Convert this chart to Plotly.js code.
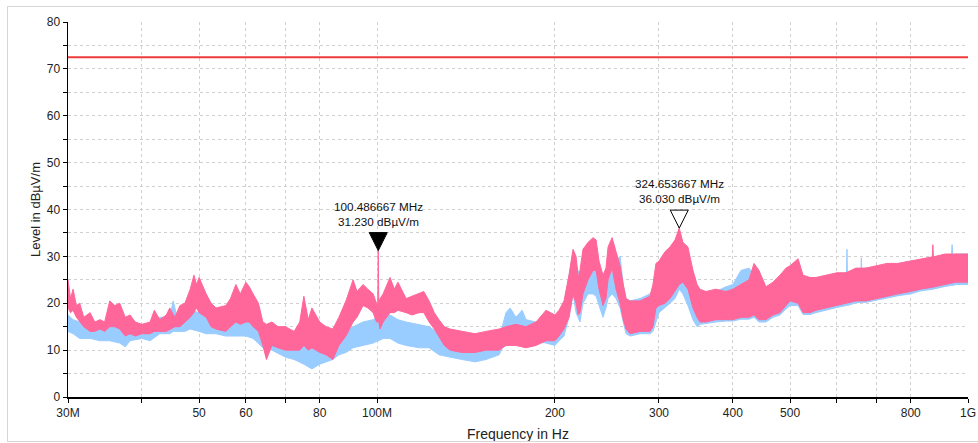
<!DOCTYPE html>
<html>
<head>
<meta charset="utf-8">
<script src="https://cdn.plot.ly/plotly-3.0.1.min.js"></script>
<style>
  html, body { margin: 0; padding: 0; background: #fff; }
  #wrap { position: relative; width: 978px; height: 443px; }
  #chart { position: absolute; left: 0; top: 0; width: 978px; height: 443px; }
  #frame { position: absolute; left: 7px; top: 6px; width: 975px; height: 434px; border: 1px solid #d6d6d6; pointer-events: none; }
</style>
</head>
<body>
<div id="wrap"><div id="chart"></div><div id="frame"></div></div>
<script>
// ---------- DATA (MHz, dBµV/m) ----------
const pinkFreq = [30,30.3,30.6,31.0,31.4,31.9,32.7,33.3,34.0,34.6,35.3,36.0,36.7,37.5,38.2,39.0,40,41.3,42.0,42.9,44.0,44.6,45.5,46.4,47.3,48.3,49.0,49.5,50,51.4,52.4,53.4,55.5,56.5,57.7,58.7,60,60.8,61.7,63,64.1,65,66.4,68,70,72.4,74,75.2,76.5,77.6,80,82,84.2,86.2,88.6,91.1,92.5,94.7,96.5,98.5,99.8,100.3,100.486667,100.7,101.2,102.4,105.2,107,108.5,112,114.6,117.8,120,122.5,125,127.3,130,132.9,139.2,146.5,152.9,160.9,165.3,171.8,178.7,185.8,193.2,200,203.2,207.2,211.3,214.6,217.2,219,220.5,223.1,227.6,232,234.8,237.5,241.2,244,246,249.9,253.8,257.8,261,263.9,268,278.7,289.7,293,296.5,300,307.1,313.1,319.3,324.653667,329.3,335.8,342.5,348,351.9,360.2,374.5,389.4,400,412.9,426,434.4,442.9,455.1,467.8,480.7,492.1,500,515.8,525.9,540.4,553.1,575.1,600,621.6,646.3,672,700,729.3,761.2,800,829.6,870,872,874,914.2,954.1,1000];
const pinkHigh = [25,21,23,19.5,20,17,18,16,16.5,16,20.5,19.5,20,17,17.5,16,15.5,16,18.5,16.5,17.5,19,17,19.5,20,23,26,24,25.5,22,20,19,19.5,21,24,22,24.5,23.5,22,20,16,15.5,16,15,15,14,16,21.5,16.5,19,16,15,14.5,17,20.5,25,22.5,24,23,22,20,20,31.23,20,21,22,25.5,23,24.5,21,21.5,22,22.5,20.5,18,16.5,15,14.5,14,13.5,14,14.5,15,15.5,15,16,18.5,17.5,18.5,20.5,26,31.5,30,25.5,27,31.5,33,34,33.5,29,26,27.5,32,34,31,28,24,21,20.5,20.5,21.5,24,28.5,29,31,32,33.5,36.03,33,32,27,24,23,22.5,23,22.5,23,24,25,28.5,27,23.5,24.5,26,27.5,28,29.5,26,25.5,25.5,26,26.5,26.5,27.5,27.5,28,28.5,28.5,29,29.5,29.9,32.5,29.9,30.5,30.5,30.5];
const pinkLow = [19,18,18.5,17,16,15,14,14,14.5,14,15,15,14.5,13,13.5,13,13.5,13.5,14,14,14,14.5,15,15,16,17,18,19,18,17,15,14.5,14,15,16,15.5,16,16,15,14,11,8,11,10.5,10,10,10,11,10,10.5,9.5,9,8,11,13,16,17,19.5,19,18,16,16,17,16,14.5,16,18,18,18.5,18,17.5,18,18,16,14.5,13,11,10,9.5,9.5,10,10,11,11,10.5,11,12,12,13,14.5,17,22,20,17.5,18,22,25,27,27,23,19.5,21,25,27.5,23,20,16.5,14.5,13.5,14,14,15,19,19.5,20,21,22.5,24,24.5,23,19,17,16,16,16.5,16.5,16.5,17,17,17.5,16.5,16.5,17.5,18,19.5,20.5,20,18,18,18.5,19,19.5,20,20.5,20.5,21,21.5,22,22.5,23,23.4,23.4,23.4,24,24.5,24.5];

const blueFreq = [30,30.6,31.4,32.7,34,35.3,36.7,37.5,38.2,40,41.3,42.9,44.6,45.2,45.8,47.3,48.3,50,51.4,53.4,55.5,57.7,60,61.7,64.1,66.4,70,72.4,75.2,77.6,80,82,84.2,86.2,88.6,91.1,94.7,98.5,100.3,100.486667,100.7,102.4,105.2,108.5,112,117.8,122.5,127.3,132.9,139.2,146.5,152.9,160.9,165.3,168,171.8,176,178.7,185.8,193.2,200,203.2,207.2,211.3,214.6,217.2,220.5,223.1,227.6,232,234.8,237.5,241.2,244,246,249.9,253.8,257.8,261,263.9,268,278.7,289.7,293,296.5,300,307.1,313.1,319.3,324.653667,329.3,335.8,342.5,348,351.9,360.2,374.5,389.4,400,412.9,426,434.4,442.9,455.1,467.8,480.7,492.1,500,515.8,525.9,540.4,553.1,575.1,600,621.6,623,624,625,646.3,659,660,661,672,700,729.3,761.2,800,829.6,872.4,914.2,938,940,942,954.1,1000];
const blueHigh = [17.5,16.5,16,15.5,15.5,15.5,15,14.5,15,15,15.5,17,17,20.5,17.5,18,18.5,18,17.5,17,16.5,17,16.5,15.5,14.5,14,12.5,12,11.5,11,11,11.5,12.5,13.5,14,15,16,16.5,17,20,17,17.5,17.5,16.5,16,15.5,15,13.5,12,11.5,11.5,12,12.5,18,19,17,18.5,16.5,16,16,16,17.5,20,26,31,28,26,29,31,31,30,27,25,26,29,29.5,29,30,24,21,20.5,21,22,23,25,27,28,28.5,30,31,29.5,27,24,22,21.5,22,22.5,23.5,24,27,27.5,26,24,23,24,25.5,26.5,27,28,25.5,25,25.5,25.5,26,26.5,26.5,31.5,26.5,27,27.3,29.7,27.3,27.5,27.5,28,28.5,29,29,29.5,30,30.3,32.5,30.3,30.5,30.5];
const blueLow = [14,13.5,12.5,12.5,12,12,11.5,10.7,12,12.5,12,13.5,13.5,14,14,14,14.5,14,13.5,13.5,13,13,13,12.5,10.5,10,8.5,8,7,6,7,7.5,8,9,9.5,10.5,11,11.5,12,12,12,12.5,12.5,11.5,11,10.5,10.5,9,8.5,8,7.5,8,9,12,13,12,11,11,12,11.5,11,12,13,17,22,18,16,20,22,22,21.5,19.5,17,19,21,22,21,19,16,13.5,13,13.5,13.5,14,16,18,19,20,21,23,22,19.5,16.5,15,15.5,15.7,16,16.2,16.2,16.6,16.6,17,16,16,17,17.5,18.8,19.5,19.5,17.6,17.6,18,18.6,19.1,19.5,19.5,19.5,19.5,20.1,20.2,20.2,20.2,20.2,20.6,21.1,21.6,22,22.6,23,23.6,23.8,23.8,23.8,24,24];

const limitFreq = [30, 1000];
const limitLevel = [72.5, 72.5];

const markerFreq = [100.486667, 324.653667];
const markerLevel = [31.23, 36.03];
const markerFilled = [true, false];

const xTickVals = [30,40,50,60,70,80,100,200,300,400,500,600,700,800,1000];
const xTickText = ['30M','','50','60','','80','100M','200','300','400','500','','','800','1G'];

// ---------- BUILD ----------
function band(f, hi, lo, color) {
  return {
    x: f.concat(f.slice().reverse()),
    y: hi.concat(lo.slice().reverse()),
    type: 'scatter', mode: 'lines', fill: 'toself',
    fillcolor: color, line: {color: color, width: 1},
    hoverinfo: 'skip'
  };
}
const BLUE = '#99ccff', PINK = '#ff6699';
const traces = [
  band(blueFreq, blueHigh, blueLow, BLUE),
  band(pinkFreq, pinkHigh, pinkLow, PINK),
  {x: limitFreq, y: limitLevel, type: 'scatter', mode: 'lines', line: {color: '#ee3b3b', width: 2}, hoverinfo: 'skip'}
];

const shapes = markerFreq.map((f, i) => ({
  type: 'path', xref: 'x', yref: 'y',
  xsizemode: 'pixel', ysizemode: 'pixel',
  xanchor: f, yanchor: markerLevel[i],
  path: 'M 0 0 L -9 18 L 9 18 Z',
  fillcolor: markerFilled[i] ? '#000' : 'rgba(0,0,0,0)',
  line: {color: '#000', width: 1}
}));

const annotations = markerFreq.map((f, i) => ({
  x: Math.log10(f), y: markerLevel[i], xref: 'x', yref: 'y',
  text: f.toFixed(6) + ' MHz<br>' + markerLevel[i].toFixed(3) + ' dBµV/m',
  showarrow: false, xanchor: 'center', yanchor: 'bottom', yshift: 21,
  font: {family: 'Liberation Sans, Arial, sans-serif', size: 11.7, color: '#111'}
}));

const gridStyle = {gridcolor: '#d0d0d0', griddash: 'dot', gridwidth: 1};

const layout = {
  width: 978, height: 443,
  margin: {l: 68, r: 10, t: 22, b: 46},
  paper_bgcolor: '#fff', plot_bgcolor: '#fff',
  showlegend: false,
  font: {family: 'Liberation Sans, Arial, sans-serif', size: 12, color: '#222'},
  xaxis: {
    type: 'log', range: [Math.log10(30), Math.log10(1000)],
    tickmode: 'array', tickvals: xTickVals, ticktext: xTickText,
    ticks: 'outside', ticklen: 4, tickcolor: '#000',
    showline: true, linecolor: '#000', linewidth: 1.5,
    showgrid: true, ...gridStyle, zeroline: false,
    title: {text: 'Frequency in Hz', font: {size: 14, color: '#222'}, standoff: 10},
    tickfont: {size: 12, color: '#222'}
  },
  yaxis: {
    range: [0, 80], dtick: 10, tick0: 0,
    ticks: 'outside', ticklen: 4, tickcolor: '#000',
    showline: true, linecolor: '#000', linewidth: 1.5,
    showgrid: true, ...gridStyle, zeroline: false,
    minor: {dtick: 5, tick0: 0, ticks: 'outside', ticklen: 4, tickcolor: '#000', showgrid: true, gridcolor: '#d0d0d0', griddash: 'dot'},
    title: {text: 'Level in dBµV/m', font: {size: 13, color: '#222'}, standoff: 3},
    tickfont: {size: 12, color: '#222'}
  },
  shapes: shapes,
  annotations: annotations
};

Plotly.newPlot('chart', traces, layout, {displayModeBar: false, staticPlot: true});
</script>
</body>
</html>
